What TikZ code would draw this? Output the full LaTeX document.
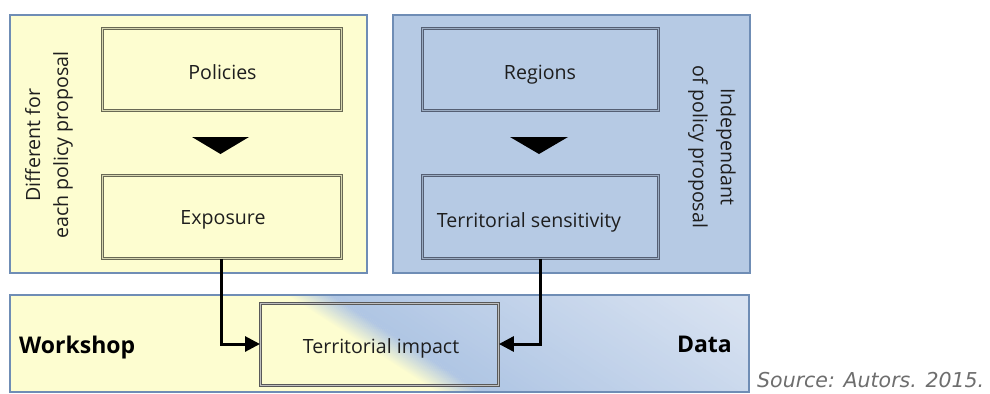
\documentclass[tikz,border=0pt]{standalone}
\usepackage{fontspec}
\setmainfont{Open Sans}
\newfontfamily\srcfont{DejaVu Sans}
\usetikzlibrary{arrows.meta}
\definecolor{yel}{RGB}{253,253,208}
\definecolor{blueD}{RGB}{182,202,228}
\definecolor{blueM}{RGB}{176,198,228}
\definecolor{blueL}{RGB}{216,226,241}
\definecolor{panelborder}{RGB}{111,141,181}
\definecolor{yboxborder}{RGB}{105,105,85}
\definecolor{bboxborder}{RGB}{85,95,115}
\definecolor{txt}{RGB}{30,30,30}
\definecolor{srcgrey}{RGB}{110,110,110}
\tikzset{
  panel/.style={draw=panelborder, line width=1.2bp},
  ybox/.style={draw=yboxborder, line width=0.9bp, double=yel!85!black, double distance=1.2bp},
  bbox/.style={draw=bboxborder, line width=0.9bp, double=blueD!85!black, double distance=1.2bp},
  lbl/.style={text=txt, font=\fontsize{19.6bp}{28bp}\selectfont, inner sep=0pt, align=center},
  bold/.style={text=black, font=\fontsize{23bp}{26bp}\selectfont\bfseries, inner sep=0pt},
  tri/.style={fill=black},
  conn/.style={line width=3bp, -{Triangle[length=15bp,width=15bp]}}
}
\begin{document}
\begin{tikzpicture}[x=1bp,y=1bp]
\useasboundingbox (0,0) rectangle (990,-393);
\fill[white] (0,0) rectangle (990,-393);
% left panel
\path[panel, fill=yel] (10,-15) rectangle (367,-273);
\node[ybox, minimum width=239bp, minimum height=82bp, anchor=north west, inner sep=0pt] (pol) at (102,-28) {};
\node[ybox, minimum width=239bp, minimum height=83bp, anchor=north west, inner sep=0pt] (exp) at (102,-175) {};
\node[lbl, anchor=base] (poltxt) at (222.5,-79) {Policies};
\node[lbl, anchor=base] (exptxt) at (223,-224.5) {Exposure};
\coordinate (tl1) at (192,-137);
\coordinate (tl2) at (249,-137);
\coordinate (tl3) at (220.5,-154);
\fill[tri] (tl1) -- (tl2) -- (tl3) -- cycle;
\node[lbl, rotate=90] (diff) at (49,-145) {Different for\\each policy proposal};
% right panel
\path[panel, fill=blueD] (393,-15) rectangle (750,-273);
\node[bbox, minimum width=236bp, minimum height=82bp, anchor=north west, inner sep=0pt] (reg) at (422,-28) {};
\node[bbox, minimum width=236bp, minimum height=83bp, anchor=north west, inner sep=0pt] (sens) at (422,-175) {};
\node[lbl, anchor=base] (regtxt) at (540,-79) {Regions};
\node[lbl, anchor=base] (senstxt) at (529,-227) {Territorial sensitivity};
\coordinate (tr1) at (510,-137);
\coordinate (tr2) at (568,-137);
\coordinate (tr3) at (539,-154);
\fill[tri] (tr1) -- (tr2) -- (tr3) -- cycle;
\node[lbl, rotate=-90] (indep) at (712,-147) {Independant\\of policy proposal};
% bottom panel with diagonal gradient
\begin{scope}
\clip (10,-295) rectangle (749,-392);
\fill[yel] (10,-295) rectangle (749,-392);
\foreach \s in {286,288,...,332} {
  \pgfmathsetmacro\p{max(0,min(100,(\s-286)/44*100))}
  \fill[blueM!\p!yel] (\s-7.75,-290) -- (\s-5.25,-290) -- (\s+157.25,-395) -- (\s+154.75,-395) -- cycle;
}
\foreach \s in {334,342,...,766} {
  \pgfmathsetmacro\p{max(0,min(100,(\s-334)/380*100))}
  \fill[blueL!\p!blueM] (\s-7.75,-290) -- (\s+1.25,-290) -- (\s+163.75,-395) -- (\s+154.75,-395) -- cycle;
}
\end{scope}
\draw[panel] (10,-295) rectangle (749,-392);
\node[draw=black!65, line width=0.9bp, double=black!25, double distance=1.1bp, minimum width=238bp, minimum height=82bp, anchor=north west, inner sep=0pt] (imp) at (260,-303) {};
\node[lbl, anchor=base] (imptxt) at (381,-353) {Territorial impact};
\node[bold, anchor=base west] (work) at (19,-353) {Workshop};
\node[bold, anchor=base east] (data) at (732,-352) {Data};
% connectors
\draw[conn] (exp.south -| 221,0) |- (imp.west |- 0,-344);
\draw[conn] (sens.south -| 540,0) |- (imp.east |- 0,-344);
% source
\node[anchor=base west, inner sep=0pt, text=srcgrey, font=\srcfont\itshape\fontsize{20.5bp}{24bp}\selectfont] (src) at (757,-387) {Source: Autors. 2015.};
\end{tikzpicture}
\end{document}
